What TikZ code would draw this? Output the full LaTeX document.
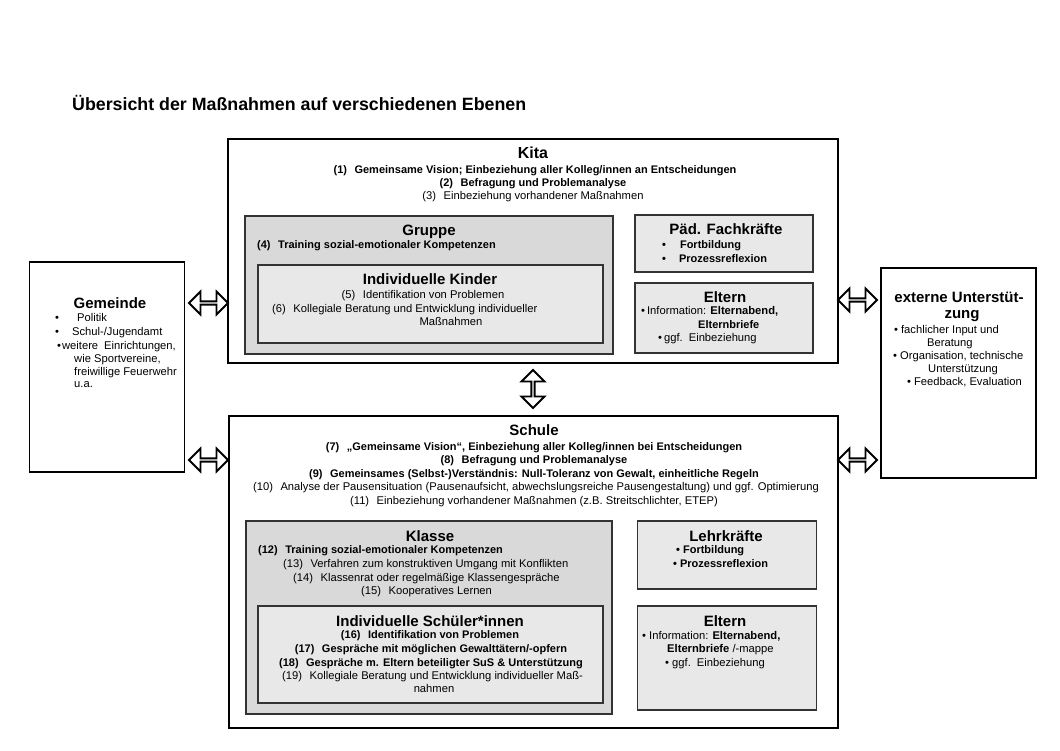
\documentclass[tikz,border=0pt]{standalone}
\usepackage{fontspec}
\setmainfont{Liberation Sans}
\usetikzlibrary{shapes.arrows}
\newcommand{\itm}[1]{(#1)\hspace{7.5pt}}

\begin{document}
\begin{tikzpicture}[x=1pt, y=-1pt,
    mainbox/.style={draw=black, line width=1.8pt, inner sep=0},
    grpbox/.style={draw=black!80, line width=1.2pt, fill=black!15, inner sep=0},
    subbox/.style={draw=black!80, line width=1.2pt, fill=black!9, inner sep=0},
    hd/.style={inner sep=0, anchor=base, font=\fontsize{15}{18}\selectfont\bfseries},
    txt/.style={inner sep=0, anchor=base, font=\fontsize{11.2}{13}\selectfont},
    btxt/.style={txt, font=\fontsize{11}{13}\selectfont\bfseries},
    lft/.style={anchor=base west},
    dblarrow/.style={double arrow, draw=black, line width=1.8pt, fill=white, minimum height=39pt, minimum width=23pt, double arrow head extend=5.5pt, inner sep=0}]
    \useasboundingbox (0,0) rectangle (1060,750);

    % title
    \node (ueber) at (72,110) [inner sep=0, anchor=base west, font=\fontsize{17.8}{20}\selectfont\bfseries] {Übersicht der Maßnahmen auf verschiedenen Ebenen};

    % main boxes
    \node (kita) at (533,251) [mainbox, minimum width=610pt, minimum height=224pt] {};
    \node (schule) at (533.5,572) [mainbox, minimum width=609pt, minimum height=312pt] {};
    \node (gemeinde) at (107,367) [mainbox, minimum width=155pt, minimum height=210pt] {};
    \node (extern) at (958.5,373) [mainbox, minimum width=155pt, minimum height=210pt] {};

    % kita boxes
    \node (gruppe) at (429,285) [grpbox, minimum width=368pt, minimum height=138pt] {};
    \node (kinder) at (430.5,304) [subbox, minimum width=345pt, minimum height=78pt] {};
    \node (paed) at (724,243.5) [subbox, minimum width=178pt, minimum height=57pt] {};
    \node (elternK) at (724,318) [subbox, minimum width=178pt, minimum height=70pt] {};

    % schule boxes
    \node (klasse) at (429,617.5) [grpbox, minimum width=366pt, minimum height=193pt] {};
    \node (schueler) at (430.5,654.5) [subbox, minimum width=345pt, minimum height=97pt] {};
    \node (lehrer) at (727,555) [subbox, minimum width=179pt, minimum height=68pt] {};
    \node (elternS) at (727,658) [subbox, minimum width=179pt, minimum height=104pt] {};

    % arrows
    \node (pfGK) at (208.5,303) [dblarrow] {};
    \node (pfGS) at (208.5,460) [dblarrow] {};
    \node (pfKE) at (857.5,300) [dblarrow] {};
    \node (pfSE) at (857.5,460) [dblarrow] {};
    \node (pfKS) at (533,389) [dblarrow, shape border rotate=90, minimum height=38pt] {};

    % kita
    \node (kitaT) at (533,158) [hd, font=\fontsize{16}{18}\selectfont\bfseries] {Kita};
    \node (k1) at (535,173.5) [btxt] {\itm{1}Gemeinsame Vision; Einbeziehung aller Kolleg/innen an Entscheidungen};
    \node (k2) at (533,186.5) [btxt] {\itm{2}Befragung und Problemanalyse};
    \node (k3) at (533,199) [txt] {\itm{3}Einbeziehung vorhandener Maßnahmen};

    % gruppe
    \node (gruppeT) at (429,235.5) [hd] {Gruppe};
    \node (k4) at (257,248) [btxt, lft] {\itm{4}Training sozial-emotionaler Kompetenzen};
    \node (kinderT) at (430,284.5) [hd] {Individuelle Kinder};
    \node (k5) at (423,298) [txt] {\itm{5}Identifikation von Problemen};
    \node (k6) at (272,312.5) [txt, lft] {\itm{6}Kollegiale Beratung und Entwicklung individueller};
    \node (k6b) at (451,325) [txt] {Maßnahmen};

    % paed. fachkraefte
    \node (paedT) at (726,234.5) [hd] {Päd. Fachkräfte};
    \node (p1) at (662,248) [btxt, lft] {•\hspace{14pt}Fortbildung};
    \node (p2) at (662,262) [btxt, lft] {•\hspace{13pt}Prozessreflexion};

    % eltern kita
    \node (elternKT) at (725,302) [hd] {Eltern};
    \node (ek1) at (641,314) [txt, lft] {•\hspace{2pt}Information: \textbf{Elternabend,}};
    \node (ek2) at (698,328) [btxt, lft] {Elternbriefe};
    \node (ek3) at (658,341) [txt, lft] {•\hspace{2pt}ggf.\hspace{6pt}Einbeziehung};

    % gemeinde
    \node (gemT) at (110,308.5) [hd] {Gemeinde};
    \node (g1) at (55,321) [txt, lft] {•\hspace{18pt}Politik};
    \node (g2) at (55,335) [txt, lft] {•\hspace{13pt}Schul-/Jugendamt};
    \node (g3) at (57,349) [txt, lft] {•\hspace{1pt}weitere\hspace{6pt}Einrichtungen,};
    \node (g4) at (74,362) [txt, lft] {wie Sportvereine,};
    \node (g5) at (74,375) [txt, lft] {freiwillige Feuerwehr};
    \node (g6) at (74,387) [txt, lft] {u.a.};

    % externe unterstuetzung
    \node (extT1) at (959,302.5) [hd] {externe Unterstüt-};
    \node (extT2) at (962,318.5) [hd] {zung};
    \node (e1) at (894,333.5) [txt, lft] {•\hspace{3pt}fachlicher Input und};
    \node (e2) at (927,346) [txt, lft] {Beratung};
    \node (e3) at (893,359) [txt, lft] {•\hspace{3pt}Organisation, technische};
    \node (e4) at (928,372) [txt, lft] {Unterstützung};
    \node (e5) at (907,385) [txt, lft] {•\hspace{3pt}Feedback, Evaluation};

    % schule
    \node (schuleT) at (534,435.5) [hd] {Schule};
    \node (s7) at (534,450) [btxt] {\itm{7}„Gemeinsame Vision“, Einbeziehung aller Kolleg/innen bei Entscheidungen};
    \node (s8) at (534,463.5) [btxt] {\itm{8}Befragung und Problemanalyse};
    \node (s9) at (534,477) [btxt] {\itm{9}Gemeinsames (Selbst-)Verständnis: Null-Toleranz von Gewalt, einheitliche Regeln};
    \node (s10) at (536,490.5) [txt] {\itm{10}Analyse der Pausensituation (Pausenaufsicht, abwechslungsreiche Pausengestaltung) und ggf. Optimierung};
    \node (s11) at (534,504) [txt] {\itm{11}Einbeziehung vorhandener Maßnahmen (z.B. Streitschlichter, ETEP)};

    % klasse
    \node (klasseT) at (430,541.5) [hd] {Klasse};
    \node (s12) at (258,553) [btxt, lft] {\itm{12}Training sozial-emotionaler Kompetenzen};
    \node (s13) at (283,567) [txt, lft] {\itm{13}Verfahren zum konstruktiven Umgang mit Konflikten};
    \node (s14) at (293,581) [txt, lft] {\itm{14}Klassenrat oder regelmäßige Klassengespräche};
    \node (s15) at (361,594) [txt, lft] {\itm{15}Kooperatives Lernen};

    % individuelle schueler
    \node (schuelerT) at (430,626.5) [hd] {Individuelle Schüler*innen};
    \node (s16) at (430,638.5) [btxt] {\itm{16}Identifikation von Problemen};
    \node (s17) at (431,652) [btxt] {\itm{17}Gespräche mit möglichen Gewalttätern/-opfern};
    \node (s18) at (431,666) [btxt] {\itm{18}Gespräche m. Eltern beteiligter SuS \& Unterstützung};
    \node (s19) at (282,679) [txt, lft] {\itm{19}Kollegiale Beratung und Entwicklung individueller Maß-};
    \node (s19b) at (434,692) [txt] {nahmen};

    % lehrkraefte
    \node (lehrerT) at (726,541.5) [hd] {Lehrkräfte};
    \node (l1) at (676,553) [btxt, lft] {• Fortbildung};
    \node (l2) at (673,567) [btxt, lft] {• Prozessreflexion};

    % eltern schule
    \node (elternST) at (725,626.5) [hd] {Eltern};
    \node (es1) at (642,639) [txt, lft] {• Information: \textbf{Elternabend,}};
    \node (es2) at (667,652) [txt, lft] {\textbf{Elternbriefe} /-mappe};
    \node (es3) at (665,666) [txt, lft] {• ggf.\hspace{6pt}Einbeziehung};
\end{tikzpicture}
\end{document}
